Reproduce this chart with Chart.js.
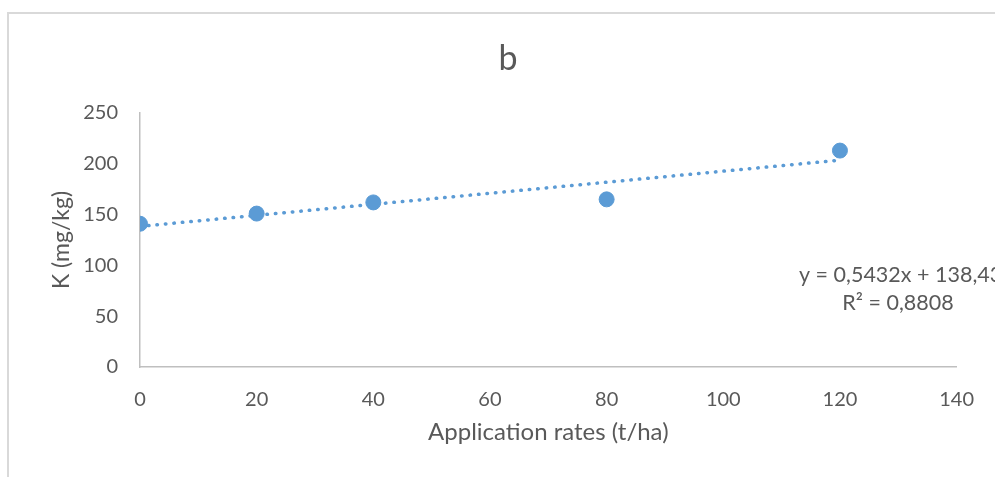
<!DOCTYPE html>
<html>
<head>
<meta charset="utf-8">
<script src="https://cdn.jsdelivr.net/npm/chart.js@4.4.1/dist/chart.umd.min.js"></script>
<style>
  html, body { margin: 0; padding: 0; background: #fff; }
  #frame { position: absolute; left: 7px; top: 12px; width: 1100px; height: 600px; border: 2px solid #d9d9d9; }
  #wrap { position: absolute; left: 0; top: 0; width: 995px; height: 477px; }
</style>
</head>
<body>
<div id="frame"></div>
<div id="wrap"><canvas id="myChart" width="995" height="477"></canvas></div>
<script>
// Data
const rates = [0, 20, 40, 80, 120];
const potassium = [141, 151, 162, 165, 213];
const slope = 0.5432;
const intercept = 138.43;
const rSquared = 0.8808;
const xTicks = [0, 20, 40, 60, 80, 100, 120, 140];
const yTicks = [0, 50, 100, 150, 200, 250];

const blue = '#5b9bd5';
const grey = '#595959';
const fontFamily = 'Lato, "Open Sans", sans-serif';

const points = rates.map((x, i) => ({ x: x, y: potassium[i] }));
const trend = [rates[0], rates[rates.length - 1]].map(x => ({ x: x, y: intercept + slope * x }));

const fmt = v => v.toFixed(4).replace('.', ',');

// writes the title and the trendline equation
const labelsPlugin = {
    id: 'labels',
    afterDraw(chart) {
        const c = chart.ctx;
        c.save();
        c.fillStyle = grey;
        c.textBaseline = 'alphabetic';
        c.font = '34px ' + fontFamily;
        c.textAlign = 'center';
        c.fillText('b', 508, 70);
        c.textBaseline = 'middle';
        c.font = '21.5px ' + fontFamily;
        c.textAlign = 'left';
        c.fillText('y = ' + fmt(slope) + 'x + ' + intercept.toFixed(2).replace('.', ','), 799, 275);
        c.textAlign = 'center';
        c.fillText('R² = ' + fmt(rSquared), 898, 303);
        c.restore();
    }
};

const ctx = document.getElementById('myChart').getContext('2d');
new Chart(ctx, {
    type: 'scatter',
    data: {
        datasets: [{
            label: 'K',
            data: points,
            backgroundColor: blue,
            borderColor: blue,
            pointRadius: 7.5,
            pointHoverRadius: 7.5,
            order: 1
        }, {
            label: 'Linear (K)',
            type: 'line',
            data: trend,
            borderColor: blue,
            borderWidth: 3.5,
            borderDash: [0.5, 8],
            borderCapStyle: 'round',
            pointRadius: 0,
            fill: false,
            order: 2
        }]
    },
    options: {
        responsive: false,
        animation: false,
        layout: { padding: { left: 0, right: 36, top: 113, bottom: 0 } },
        plugins: {
            legend: { display: false },
            title: { display: false },
            tooltip: { enabled: false }
        },
        scales: {
            x: {
                type: 'linear',
                min: 0,
                max: 140,
                afterBuildTicks: s => { s.ticks = xTicks.map(v => ({ value: v })); },
                grid: { display: false, drawTicks: false },
                border: { display: true, color: '#bfbfbf', width: 1.5 },
                ticks: { color: grey, padding: 21, font: { family: fontFamily, size: 20 } },
                title: {
                    display: true,
                    text: 'Application rates (t/ha)',
                    color: grey,
                    font: { family: fontFamily, size: 24 },
                    padding: { top: 0, bottom: 30 }
                },
                afterFit: s => { s.height = 477 - 367; }
            },
            y: {
                min: 0,
                max: 250,
                afterBuildTicks: s => { s.ticks = yTicks.map(v => ({ value: v })); },
                grid: { display: false, drawTicks: false },
                border: { display: true, color: '#bfbfbf', width: 1.5 },
                ticks: { color: grey, padding: 22, font: { family: fontFamily, size: 20 } },
                title: {
                    display: true,
                    text: 'K (mg/kg)',
                    color: grey,
                    font: { family: fontFamily, size: 23 },
                    padding: { top: 48, bottom: 0 }
                },
                afterFit: s => { s.width = 140; }
            }
        }
    },
    plugins: [labelsPlugin]
});
</script>
</body>
</html>
